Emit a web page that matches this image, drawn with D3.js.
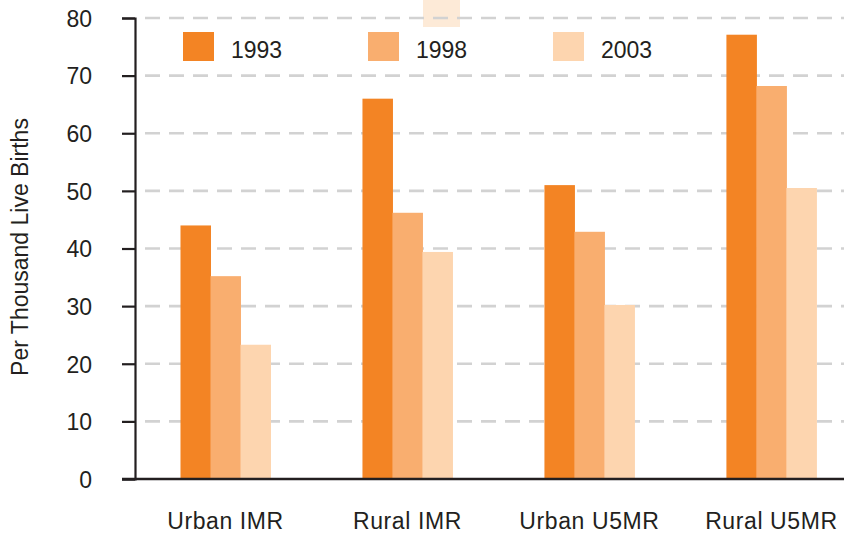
<!DOCTYPE html>
<html>
<head>
<meta charset="utf-8">
<script src="https://cdn.jsdelivr.net/npm/d3@7"></script>
<style>
  html, body { margin: 0; padding: 0; background: #ffffff; }
  svg { display: block; font-family: "Liberation Sans", Arial, sans-serif; }
</style>
</head>
<body>
<svg id="chart" width="844" height="537"></svg>
<script>
const categories = ["Urban IMR", "Rural IMR", "Urban U5MR", "Rural U5MR"];
const years = ["1993", "1998", "2003"];
const values1993 = [44, 66, 51, 77.1];
const values1998 = [35.2, 46.2, 42.9, 68.2];
const values2003 = [23.3, 39.4, 30.2, 50.5];
const yTicks = [0, 10, 20, 30, 40, 50, 60, 70, 80];
const yTitle = "Per Thousand Live Births";
const colors = ["#F38424", "#F9AE6F", "#FDD5AF"];

const seriesValues = [values1993, values1998, values2003];
const data = categories.map((c, i) => ({
  cat: c,
  vals: years.map((y, j) => ({ year: y, value: seriesValues[j][i] }))
}));

const svg = d3.select("#chart");
const ink = "#231f20";

const y = d3.scaleLinear().domain([0, 80]).range([479, 18]);
const x0 = d3.scaleBand().domain(categories).range([134.5, 862.4]).padding(0);
const x1 = d3.scaleBand().domain(years).range([0, 90]).padding(0);
const color = d3.scaleOrdinal().domain(years).range(colors);

// faint artifact square at top
svg.append("rect").attr("x", 423).attr("y", 0).attr("width", 37).attr("height", 27)
  .attr("fill", "#FDEAD7");

// gridlines
svg.append("g").selectAll("line")
  .data(yTicks.filter(d => d > 0))
  .join("line")
  .attr("x1", 145).attr("x2", 844)
  .attr("y1", d => y(d)).attr("y2", d => y(d))
  .attr("stroke", "#d2d2d2")
  .attr("stroke-width", 2.6)
  .attr("stroke-dasharray", "15,9");

// bars
const groups = svg.append("g").selectAll("g")
  .data(data)
  .join("g")
  .attr("transform", d => `translate(${x0(d.cat) + x0.bandwidth() / 2 - 45},0)`);

groups.selectAll("rect")
  .data(d => d.vals)
  .join("rect")
  .attr("x", d => x1(d.year))
  .attr("width", x1.bandwidth() + 0.5)
  .attr("y", d => y(d.value))
  .attr("height", d => y(0) - y(d.value))
  .attr("fill", d => color(d.year));

// y axis
const yAxis = d3.axisLeft(y).tickValues(yTicks).tickSize(13).tickSizeOuter(13).tickPadding(30);
const gy = svg.append("g").attr("transform", "translate(135,0)").call(yAxis);
gy.select(".domain").attr("stroke", ink).attr("stroke-width", 2.2);
gy.selectAll(".tick line").attr("stroke", ink).attr("stroke-width", 2.2);
gy.selectAll(".tick text").attr("fill", ink).attr("font-size", 23)
  .attr("font-family", "'Liberation Sans', Arial, sans-serif").attr("dy", "0.36em");

// x axis baseline
svg.append("line")
  .attr("x1", 122).attr("x2", 844)
  .attr("y1", y(0)).attr("y2", y(0))
  .attr("stroke", ink).attr("stroke-width", 2.4);

// category labels
svg.append("g").selectAll("text")
  .data(categories)
  .join("text")
  .attr("x", d => x0(d) + x0.bandwidth() / 2)
  .attr("y", 529)
  .attr("text-anchor", "middle")
  .attr("font-size", 23)
  .attr("letter-spacing", 0.6)
  .attr("fill", ink)
  .text(d => d);

// y title
svg.append("text")
  .attr("transform", "translate(28,247) rotate(-90)")
  .attr("text-anchor", "middle")
  .attr("font-size", 23)
  .attr("fill", ink)
  .text(yTitle);

// legend
const legend = svg.append("g").selectAll("g")
  .data(years)
  .join("g")
  .attr("transform", (d, i) => `translate(${183 + i * 185},32)`);
legend.append("rect").attr("width", 31).attr("height", 29).attr("fill", d => color(d));
legend.append("text").attr("x", 48).attr("y", 26).attr("font-size", 23)
  .attr("fill", ink).text(d => d);
</script>
</body>
</html>
